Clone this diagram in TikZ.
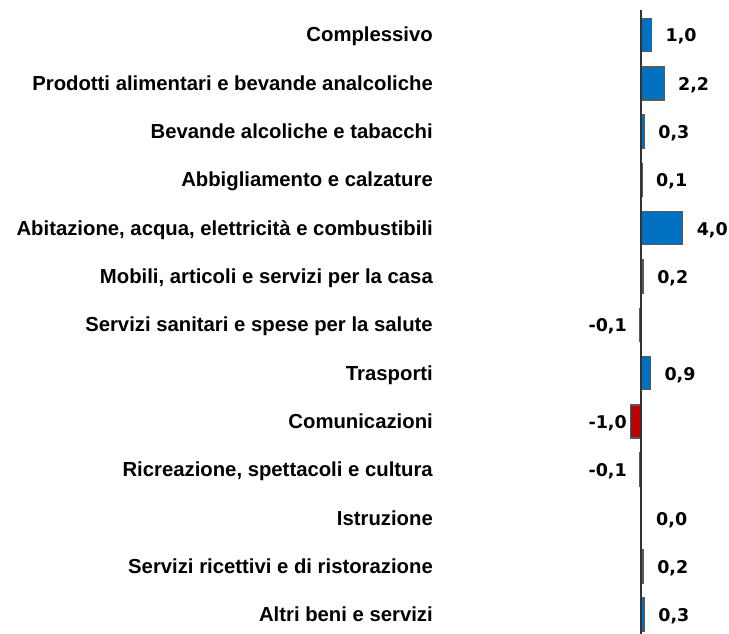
\documentclass[tikz,border=0pt]{standalone}
\usepackage{fontspec}
\setmainfont{Liberation Sans}
\newfontfamily\valfont{DejaVu Sans}
\definecolor{barblue}{HTML}{0070C0}
\definecolor{barred}{HTML}{C00000}
\definecolor{bargray}{HTML}{595959}
\usetikzlibrary{positioning}
\tikzstyle{catlabel} = [anchor=base east, inner sep=0pt,
font=\bfseries\fontsize{20.3}{22}\selectfont]
\tikzstyle{vallabel} = [inner sep=0pt, font=\valfont\bfseries\fontsize{17.5}{20}\selectfont]
\tikzstyle{bar} = [draw=bargray, line width=1.5pt]
\tikzstyle{axis} = [draw=black!80, line width=1.2pt]

\begin{document}
\begin{tikzpicture}[x=1pt, y=-1pt]
    \useasboundingbox (0,0) rectangle (729,634);
    % bars and labels
    \foreach \cat/\val/\txt [count=\i from 0] in {
        Complessivo/1.0/{1,0},
        Prodotti alimentari e bevande analcoliche/2.2/{2,2},
        Bevande alcoliche e tabacchi/0.3/{0,3},
        Abbigliamento e calzature/0.1/{0,1},
        {Abitazione, acqua, elettricità e combustibili}/4.0/{4,0},
        {Mobili, articoli e servizi per la casa}/0.2/{0,2},
        Servizi sanitari e spese per la salute/-0.1/{-0,1},
        Trasporti/0.9/{0,9},
        Comunicazioni/-1.0/{-1,0},
        {Ricreazione, spettacoli e cultura}/-0.1/{-0,1},
        Istruzione/0.0/{0,0},
        Servizi ricettivi e di ristorazione/0.2/{0,2},
        Altri beni e servizi/0.3/{0,3}} {
        \pgfmathsetmacro{\ypos}{35+48.3*\i}
        \pgfmathsetmacro{\xend}{641+10.4*\val}
        \node [catlabel] (cat\i) at (433,\ypos+7) {\cat};
        \ifdim \val pt > 0pt
            \draw [bar, fill=barblue] (641,\ypos-16.5) rectangle (\xend,\ypos+16.5);
            \node [vallabel, anchor=base west] (val\i) at (\xend+14,\ypos+7) {\txt};
        \else
            \ifdim \val pt < 0pt
                \draw [bar, fill=barred] (641,\ypos-16.5) rectangle (\xend,\ypos+16.5);
                \node [vallabel, anchor=base east] (val\i) at (627,\ypos+7) {\txt};
            \else
                \node [vallabel, anchor=base west] (val\i) at (656,\ypos+7) {\txt};
            \fi
        \fi
    }
    % axis
    \draw [axis] (641,10) -- (641,634);
\end{tikzpicture}
\end{document}
